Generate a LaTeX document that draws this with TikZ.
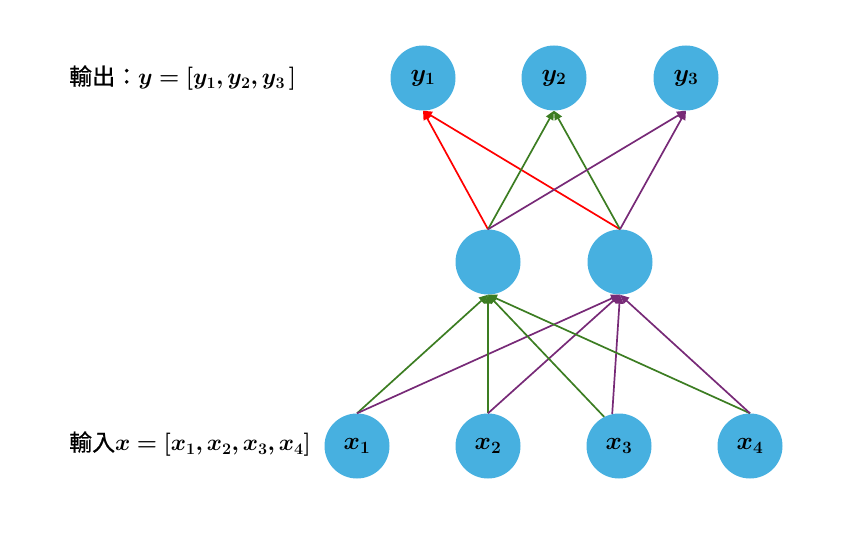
\documentclass[tikz,border=0pt]{standalone}
\usepackage{fontspec}
\usepackage{amsmath}
\usepackage{bm}
\newfontfamily\cjk{Noto Sans CJK TC}[FakeBold=0.8]
\usetikzlibrary{arrows.meta}
\definecolor{nodeblue}{HTML}{47B0E0}
\definecolor{edgegreen}{HTML}{3C7D22}
\definecolor{edgepurple}{HTML}{772A77}
\definecolor{edgered}{HTML}{FF0000}
\newcommand{\bmath}[1]{{\fontsize{25}{30}\selectfont$\bm{#1}$}}
\newcommand{\lmath}[1]{\scalebox{0.93}{\fontsize{25}{30}\selectfont$\bm{#1}$}}
\tikzset{
  neuron/.style={circle, fill=nodeblue, draw=none, minimum size=65pt, inner sep=0pt},
  conn/.style={line width=1.7pt, -{Triangle[length=9pt,width=8pt]}},
  lbl/.style={anchor=west, inner sep=0pt, font=\fontsize{23}{27}\selectfont}
}
\begin{document}
\begin{tikzpicture}[x=1pt,y=-1pt]
\useasboundingbox (0,0) rectangle (847,540);
% output layer
\node[neuron] (y1) at (423,78) {\bmath{y_1}};
\node[neuron] (y2) at (554,78) {\bmath{y_2}};
\node[neuron] (y3) at (686,78) {\bmath{y_3}};
% hidden layer
\node[neuron] (h1) at (488,262) {};
\node[neuron] (h2) at (620,262) {};
% input layer
\node[neuron] (x1) at (357,446) {\bmath{x_1}};
\node[neuron] (x2) at (488,446) {\bmath{x_2}};
\node[neuron] (x3) at (619,446) {\bmath{x_3}};
\node[neuron] (x4) at (750,446) {\bmath{x_4}};
% labels
\node[lbl] (outlabel) at (69,78) {{\cjk 輸出：}\lmath{y=[y_1,y_2,y_3\,]}};
\node[lbl] (inlabel) at (69,444) {{\cjk 輸入}\lmath{x=[x_1,x_2,x_3,x_4]}};
% hidden -> output
\draw[conn, edgered] (h1.north) -- (y1.south);
\draw[conn, edgered] (h2.north) -- (y1.south);
\draw[conn, edgegreen] (h1.north) -- (y2.south);
\draw[conn, edgegreen] (h2.north) -- (y2.south);
\draw[conn, edgepurple] (h1.north) -- (y3.south);
\draw[conn, edgepurple] (h2.north) -- (y3.south);
% input -> hidden
\draw[conn, edgegreen] (x1.north) -- (h1.south);
\draw[conn, edgepurple] (x1.north) -- (h2.south);
\draw[conn, edgegreen] (x2.north) -- (h1.south);
\draw[conn, edgepurple] (x2.north) -- (h2.south);
\draw[conn, edgegreen] (x3.117) -- (h1.south);
\draw[conn, edgepurple] (x3.102) -- (h2.south);
\draw[conn, edgegreen] (x4.north) -- (h1.south);
\draw[conn, edgepurple] (x4.north) -- (h2.south);
\end{tikzpicture}
\end{document}
